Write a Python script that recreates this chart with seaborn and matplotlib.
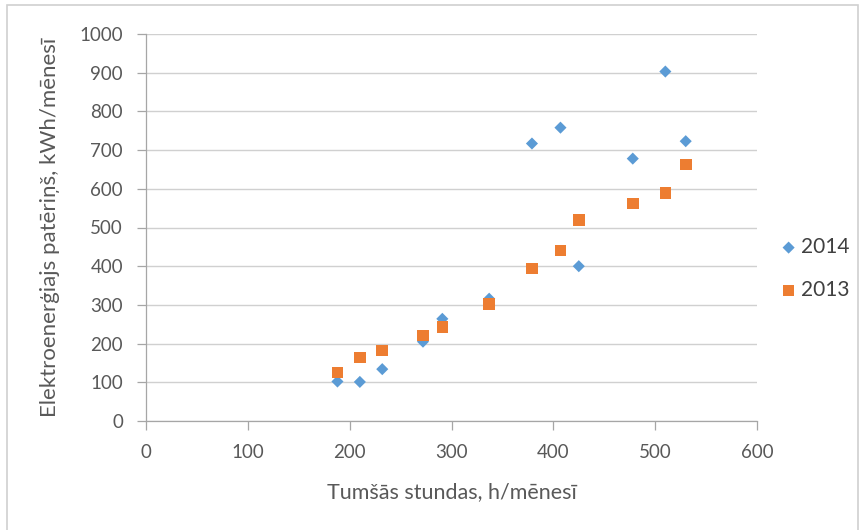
import numpy as np
import pandas as pd
import matplotlib
matplotlib.use("Agg")
import matplotlib.pyplot as plt
import seaborn as sns
from matplotlib.patches import Rectangle

# dark hours per month vs electricity use, two years
hours_2014 = [188, 210, 232, 272, 291, 337, 379, 407, 425, 478, 510, 530]
kwh_2014 = [102, 101, 134, 205, 264, 316, 717, 758, 400, 678, 903, 723]
hours_2013 = [188, 210, 232, 272, 291, 337, 379, 407, 425, 478, 510, 530]
kwh_2013 = [125, 164, 182, 221, 243, 303, 394, 441, 519, 562, 589, 663]
series = ["2014", "2013"]
x_ticks = [0, 100, 200, 300, 400, 500, 600]
y_ticks = [0, 100, 200, 300, 400, 500, 600, 700, 800, 900, 1000]

df = pd.concat([
    pd.DataFrame({"x": hours_2014, "y": kwh_2014, "year": "2014"}),
    pd.DataFrame({"x": hours_2013, "y": kwh_2013, "year": "2013"}),
])

sns.set_theme(style="white")
plt.rcParams["font.family"] = ["Lato", "DejaVu Sans"]

fig = plt.figure(figsize=(8.63, 5.30), dpi=100)
ax = fig.add_axes([146 / 863, 1 - 421 / 530, (757 - 146) / 863, (421 - 34) / 530])

palette = {"2014": "#5B9BD5", "2013": "#ED7D31"}
markers = {"2014": "D", "2013": "s"}
sizes = {"2014": 38, "2013": 70}
for yr in series:
    sub = df[df["year"] == yr]
    sns.scatterplot(data=sub, x="x", y="y", color=palette[yr], marker=markers[yr],
                    s=sizes[yr], edgecolor="none", ax=ax, label=yr, zorder=3)

ax.set_xlim(0, 600)
ax.set_ylim(0, 1000)
ax.set_xticks(x_ticks)
ax.set_yticks(y_ticks)
ax.tick_params(axis="both", labelsize=13.5, colors="#A6A6A6", labelcolor="#595959",
               length=6.5, width=0.9, direction="out", bottom=True, left=True, pad=10)
ax.grid(axis="y", color="#D0D0D0", linewidth=1)
ax.grid(axis="x", visible=False)
for side in ["top", "right"]:
    ax.spines[side].set_visible(False)
for side in ["left", "bottom"]:
    ax.spines[side].set_color("#A6A6A6")
    ax.spines[side].set_linewidth(0.9)

ax.set_xlabel("Tumšās stundas, h/mēnesī", fontsize=15.5, color="#595959")
ax.set_ylabel("Elektroenerģiajs patēriņš, kWh/mēnesī", fontsize=16, color="#595959")
ax.xaxis.set_label_coords(0.5, -0.158)
ax.yaxis.set_label_coords(-0.141, 0.5)

leg = ax.legend(loc="center left", bbox_to_anchor=(1.004, 0.394), frameon=False,
                fontsize=15, handletextpad=0.1, labelspacing=1.1, handlelength=1.0,
                labelcolor="#404040")

fig.patches.append(Rectangle((7 / 863, -0.05), 851 / 863, 1.04, transform=fig.transFigure,
                             fill=False, edgecolor="#D0D0D0", linewidth=1.2))

fig.savefig("out.png", dpi=100)
